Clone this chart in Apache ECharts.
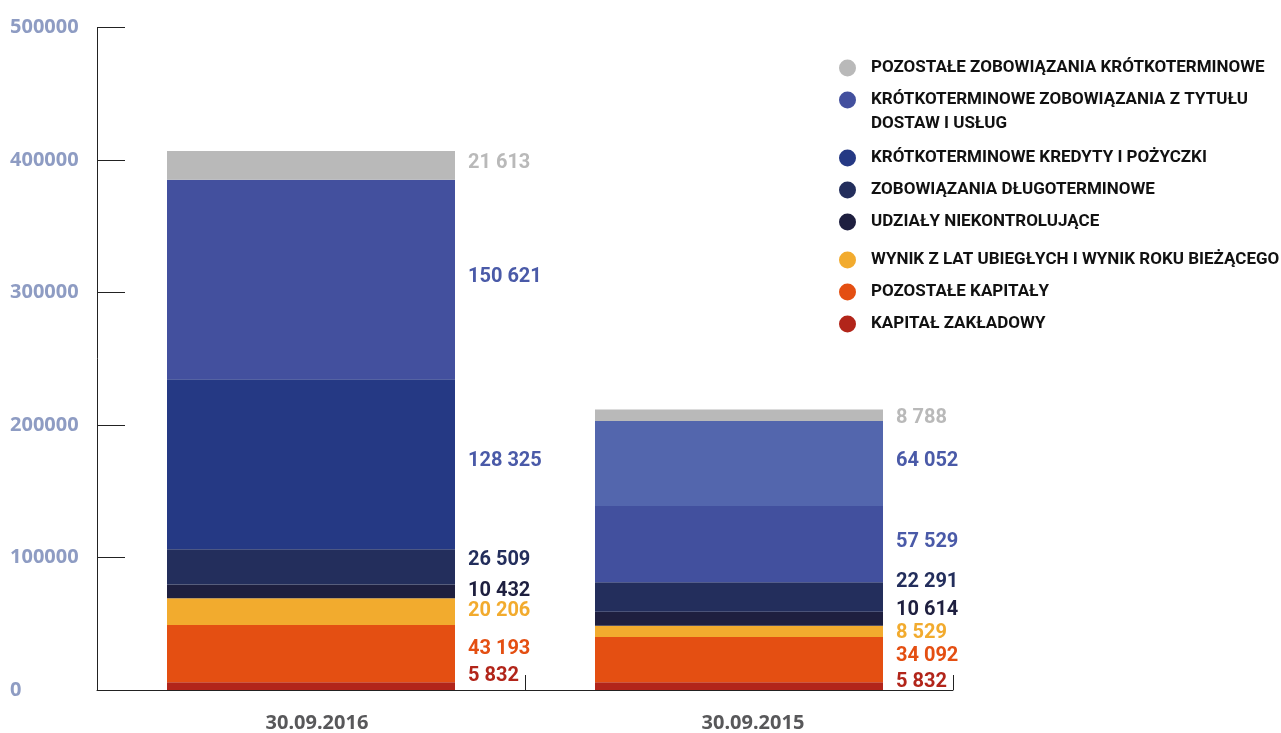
<!DOCTYPE html>
<html>
<head>
<meta charset="utf-8">
<script src="https://cdn.jsdelivr.net/npm/echarts@6/dist/echarts.min.js"></script>
<style>
  html, body { margin: 0; padding: 0; background: #fff; }
  #bilans { width: 1281px; height: 733px; }
</style>
</head>
<body>
<div id="bilans"></div>
<script>
// dane bilansowe (tys. zł)
var dates = ['30.09.2016', '30.09.2015'];

var pozostaleZobKrotko = [21613, 8788];
var zobDostawUslug     = [150621, 64052];
var kredytyPozyczki    = [128325, 57529];
var zobDlugo           = [26509, 22291];
var udzialyNiekontr    = [10432, 10614];
var wynikLat           = [20206, 8529];
var pozostaleKapitaly  = [43193, 34092];
var kapitalZakladowy   = [5832, 5832];

var yTicks = [0, 100000, 200000, 300000, 400000, 500000];

var FONT = '"Noto Sans", sans-serif';
var NARROW = 'Roboto, "DejaVu Sans Condensed", sans-serif';

function fmt(v) {
  return String(v).replace(/\B(?=(\d{3})+(?!\d))/g, ' ');
}

// series listed bottom -> top of the stack
var stackDefs = [
  { name: 'KAPITAŁ ZAKŁADOWY', data: kapitalZakladowy, color: '#b2251a', label: '#b2251a', dy: [-10, -4] },
  { name: 'POZOSTAŁE KAPITAŁY', data: pozostaleKapitaly, color: '#e44f12', label: '#e44f12', dy: [-5, -4] },
  { name: 'WYNIK Z LAT UBIEGŁYCH I WYNIK ROKU BIEŻĄCEGO', data: wynikLat, color: '#f2ab2e', label: '#f2ab2e', dy: [-1, 2] },
  { name: 'UDZIAŁY NIEKONTROLUJĄCE', data: udzialyNiekontr, color: '#1e1f3f', label: '#1e1f3f', dy: [0, -9] },
  { name: 'ZOBOWIĄZANIA DŁUGOTERMINOWE', data: zobDlugo, color: '#232e5c', label: '#232e5c', dy: [-7, -15] },
  { name: 'KRÓTKOTERMINOWE KREDYTY I POŻYCZKI', data: kredytyPozyczki, color: '#253984', label: '#4a5aa8', dy: [-3, -2], alt: '#42509e' },
  { name: 'KRÓTKOTERMINOWE ZOBOWIĄZANIA Z TYTUŁU', data: zobDostawUslug, color: '#43509e', label: '#4a5aa8', dy: [-3, -3], alt: '#5366ad' },
  { name: 'POZOSTAŁE ZOBOWIĄZANIA KRÓTKOTERMINOWE', data: pozostaleZobKrotko, color: '#b9b9b9', label: '#b9b9b9', dy: [-2, 3] }
];

var series = stackDefs.map(function (s) {
  return {
    name: s.name,
    type: 'bar',
    stack: 'bilans',
    barWidth: 288,
    itemStyle: { color: s.color },
    data: s.data.map(function (v, i) {
      var item = {
        value: v,
        label: { offset: [0, s.dy[i]] }
      };
      if (i === 1 && s.alt) item.itemStyle = { color: s.alt };
      return item;
    }),
    label: {
      show: true,
      position: 'right',
      distance: 13,
      color: s.label,
      fontFamily: NARROW,
      fontWeight: 'bold',
      fontSize: 20,
      formatter: function (p) { return fmt(p.value); }
    }
  };
});

var legendNames = stackDefs.slice().reverse().map(function (s) { return s.name; });

var legendText = {
  color: '#111',
  fontFamily: NARROW,
  fontWeight: 'bold',
  fontSize: 17,
  lineHeight: 22,
  padding: [0, 0, 0, 10]
};

function legendBlock(names, top) {
  return {
    orient: 'vertical',
    left: 839,
    top: top,
    padding: 0,
    icon: 'circle',
    itemWidth: 17,
    itemHeight: 17,
    itemGap: 10,
    data: names,
    textStyle: legendText
  };
}

var labelStyle = {
  color: '#58585a',
  fontFamily: FONT,
  fontWeight: 'bold',
  fontSize: 20
};

var chart = echarts.init(document.getElementById('bilans'));
var option = {
  animation: false,
  grid: { left: 97, right: 328, top: 27.5, bottom: 43 },
  legend: [
    legendBlock(legendNames.slice(0, 2), 57),
    legendBlock(legendNames.slice(2, 5), 147),
    legendBlock(legendNames.slice(5), 249)
  ],
  graphic: [{
    type: 'text',
    left: 871,
    top: 115,
    style: {
      text: 'DOSTAW I USŁUG',
      fill: '#111',
      font: 'bold 17px ' + NARROW
    }
  }],
  xAxis: {
    type: 'category',
    data: dates,
    axisLine: { lineStyle: { color: '#222', width: 1 } },
    axisTick: { show: true, inside: true, length: 15, lineStyle: { color: '#222' } },
    axisLabel: {
      margin: 23,
      formatter: function (v, i) { return '{d' + i + '|' + v + '}'; },
      rich: {
        d0: Object.assign({ padding: [0, 0, 0, 12] }, labelStyle),
        d1: Object.assign({ padding: [0, 0, 0, 28] }, labelStyle)
      }
    }
  },
  yAxis: {
    type: 'value',
    min: yTicks[0],
    max: yTicks[yTicks.length - 1],
    interval: yTicks[1] - yTicks[0],
    splitLine: { show: false },
    axisLine: { show: true, lineStyle: { color: '#222', width: 1 } },
    axisTick: { show: true, inside: true, length: 28, lineStyle: { color: '#222' } },
    axisLabel: {
      align: 'left',
      margin: 87,
      color: '#8e9cc3',
      fontFamily: FONT,
      fontWeight: 'bold',
      fontSize: 20,
      formatter: function (v) { return String(v); }
    }
  },
  series: series
};

chart.setOption(option);
</script>
</body>
</html>
